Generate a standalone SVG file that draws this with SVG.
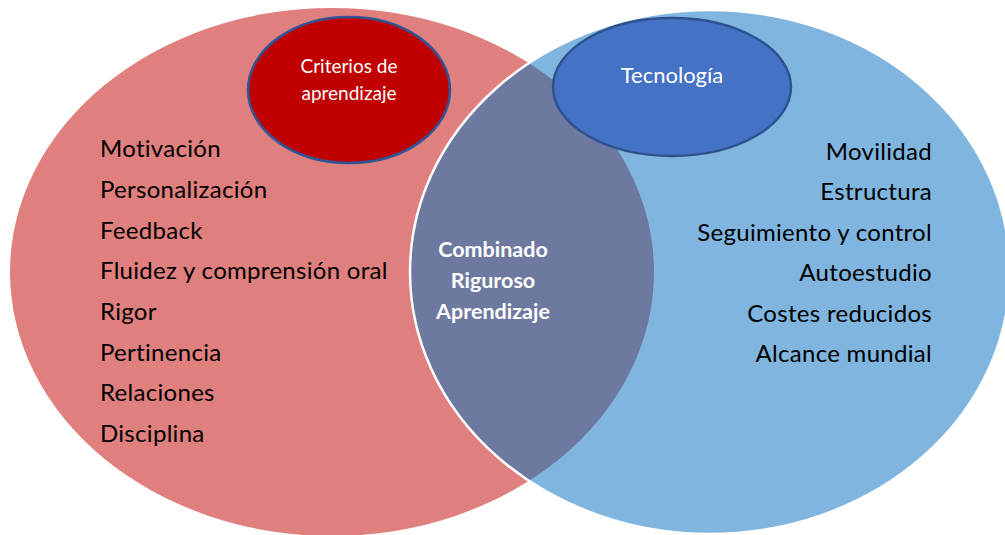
<svg xmlns="http://www.w3.org/2000/svg" width="1005" height="535" viewBox="0 0 1005 535">
<style>
.item{font-family:Lato,"Liberation Sans",sans-serif;font-size:24px;letter-spacing:0.3px;fill:#000}
.r{text-anchor:end}
.w{font-family:Lato,"Liberation Sans",sans-serif;fill:#fff;text-anchor:middle}
.b{font-weight:bold;font-size:21.5px}
</style>
<defs>
<clipPath id="redClip"><ellipse cx="332" cy="272" rx="322" ry="264"/></clipPath>
</defs>
<rect width="1005" height="535" fill="#fff"/>
<g id="set-left">
<ellipse cx="332" cy="272" rx="322" ry="264" fill="#DF7F7E"/>
</g>
<g id="set-right">
<ellipse cx="710" cy="272" rx="300" ry="262" fill="#7FB5DE"/>
</g>
<g id="intersection">
<ellipse cx="710" cy="272" rx="300" ry="262" fill="#6E79A0" clip-path="url(#redClip)"/>
<ellipse cx="710" cy="272" rx="300" ry="262" fill="none" stroke="#fff" stroke-width="2.5"/>
<text class="w b" x="493" y="257">Combinado</text>
<text class="w b" x="493" y="288">Riguroso</text>
<text class="w b" x="493" y="319">Aprendizaje</text>
</g>
<g id="criterios">
<ellipse cx="349" cy="90" rx="101" ry="73" fill="#C00000" stroke="#2F5597" stroke-width="2.5"/>
<text class="w" x="349" y="73" font-size="19">Criterios de</text>
<text class="w" x="349" y="100" font-size="19">aprendizaje</text>
</g>
<g id="tecnologia">
<ellipse cx="672" cy="87" rx="119" ry="69" fill="#4472C4" stroke="#2F528F" stroke-width="2.5"/>
<text class="w" x="672" y="83" font-size="22">Tecnología</text>
</g>
<g id="left-items">
<text class="item" x="100" y="157">Motivación</text>
<text class="item" x="100" y="198">Personalización</text>
<text class="item" x="100" y="239">Feedback</text>
<text class="item" x="100" y="279">Fluidez y comprensión oral</text>
<text class="item" x="100" y="320">Rigor</text>
<text class="item" x="100" y="361">Pertinencia</text>
<text class="item" x="100" y="401">Relaciones</text>
<text class="item" x="100" y="442">Disciplina</text>
</g>
<g id="right-items">
<text class="item r" x="932" y="160">Movilidad</text>
<text class="item r" x="932" y="200">Estructura</text>
<text class="item r" x="932" y="241">Seguimiento y control</text>
<text class="item r" x="932" y="281">Autoestudio</text>
<text class="item r" x="932" y="322">Costes reducidos</text>
<text class="item r" x="932" y="362">Alcance mundial</text>
</g>
<g id="connectors"></g>
</svg>
